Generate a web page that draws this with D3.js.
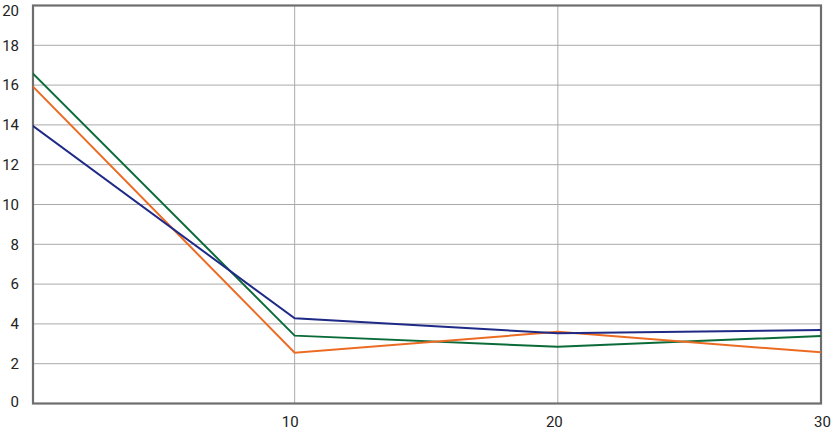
<!DOCTYPE html>
<html><head><meta charset="utf-8">
<script src="https://cdn.jsdelivr.net/npm/d3@7"></script>
<style>body{margin:0;background:#fff}svg{display:block}text{font-family:Roboto,sans-serif;font-size:15px;fill:#222}</style>
</head><body>
<svg id="c" width="835" height="436"></svg>
<script>
const xValues = [0, 10, 20, 30];
const blueSeries = [14.0, 4.28, 3.53, 3.69];
const greenSeries = [16.65, 3.41, 2.85, 3.39];
const orangeSeries = [16.0, 2.55, 3.6, 2.57];
const yTicks = [0, 2, 4, 6, 8, 10, 12, 14, 16, 18, 20];
const xTicks = [10, 20, 30];

const svg = d3.select("#c");
const L = 33, R = 821, T = 5.5, B = 403.5;
const x = d3.scaleLinear().domain([0, 30]).range([L - 1.5, R]);
const y = d3.scaleLinear().domain([0, 20]).range([B, T]);

svg.append("defs").append("clipPath").attr("id", "plot")
  .append("rect").attr("x", L).attr("y", 0).attr("width", R - L + 2).attr("height", 436);

// grid
svg.append("g").selectAll("line").data(yTicks.filter(d => d > 0 && d < 20)).join("line")
  .attr("x1", L).attr("x2", R).attr("y1", d => y(d)).attr("y2", d => y(d))
  .attr("stroke", "#aaa").attr("stroke-width", 1);
svg.append("g").selectAll("line").data(xTicks.filter(d => d < 30)).join("line")
  .attr("x1", d => x(d)).attr("x2", d => x(d)).attr("y1", T).attr("y2", B)
  .attr("stroke", "#aaa").attr("stroke-width", 1);

// y labels
const yAxis = d3.axisLeft(y).tickValues(yTicks).tickSize(0).tickPadding(14);
const gy = svg.append("g").attr("transform", `translate(${L},0)`).call(yAxis);
gy.select(".domain").remove();
gy.selectAll("text").attr("font-size", 15).attr("font-family", "Roboto,sans-serif").attr("fill", "#222")
  .attr("dy", d => d === 20 ? "0.65em" : (d === 0 ? "0.2em" : "0.32em"));

// x labels
const xAxis = d3.axisBottom(x).tickValues(xTicks).tickSize(0).tickPadding(13);
const gx = svg.append("g").attr("transform", `translate(0,${B})`).call(xAxis);
gx.select(".domain").remove();
gx.selectAll("text").attr("font-size", 15).attr("font-family", "Roboto,sans-serif").attr("fill", "#222")
  .attr("dx", (d) => d === 10 ? -5 : (d === 20 ? -4 : 1));

// frame
svg.append("rect").attr("x", L).attr("y", T).attr("width", R - L).attr("height", B - T)
  .attr("fill", "none").attr("stroke", "#6e6e6e").attr("stroke-width", 2.2);

const line = d3.line().x((d, i) => x(xValues[i])).y(d => y(d));
const series = [
  {v: greenSeries, c: "#0b6b38"},
  {v: orangeSeries, c: "#ec6b23"},
  {v: blueSeries, c: "#1e2a86"}
];
svg.append("g").attr("clip-path", "url(#plot)").selectAll("path").data(series).join("path")
  .attr("d", d => line(d.v)).attr("fill", "none").attr("stroke", d => d.c).attr("stroke-width", 2);
</script>
</body></html>
